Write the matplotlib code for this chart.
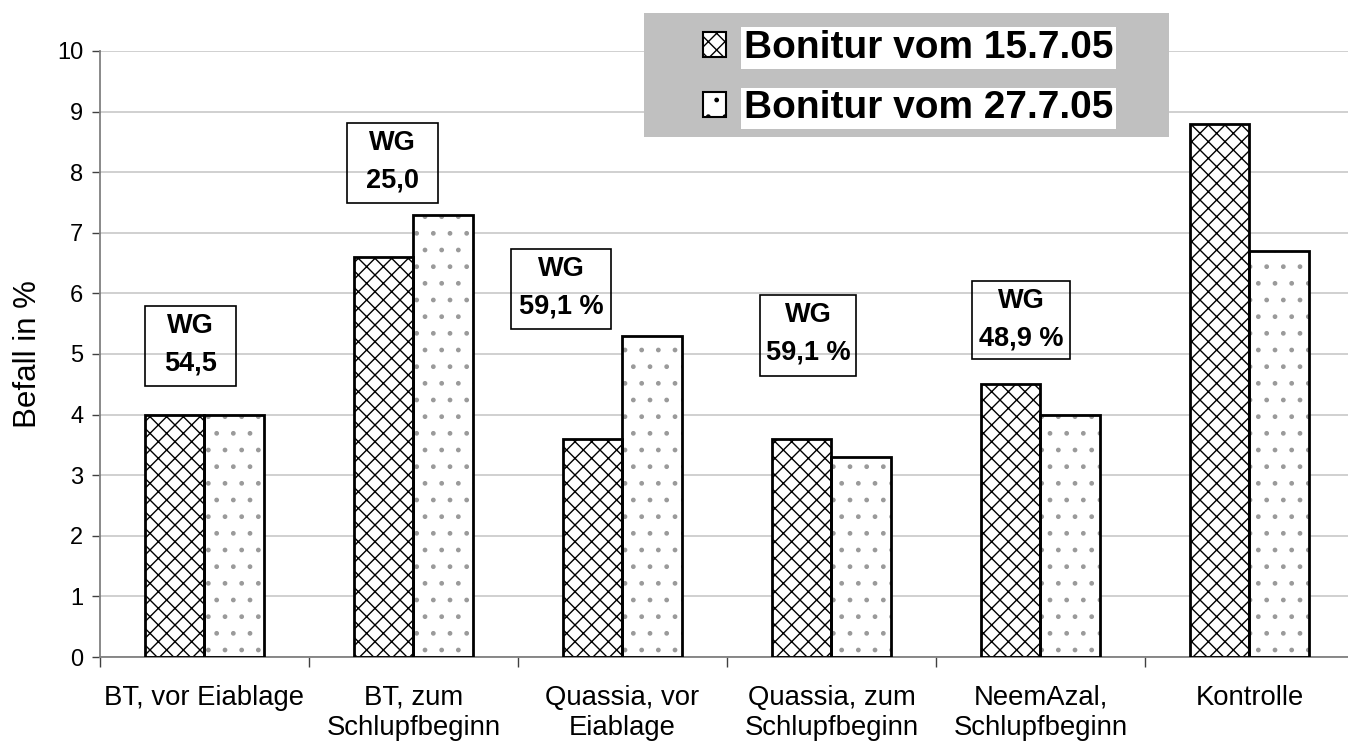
import matplotlib
matplotlib.use("Agg")
import matplotlib.pyplot as plt
import numpy as np
from matplotlib.patches import Patch, Rectangle

plt.rcParams["font.family"] = ["Liberation Sans", "DejaVu Sans"]
plt.rcParams["hatch.linewidth"] = 1.0

# data
categories = [
    "BT, vor Eiablage",
    "BT, zum\nSchlupfbeginn",
    "Quassia, vor\nEiablage",
    "Quassia, zum\nSchlupfbeginn",
    "NeemAzal,\nSchlupfbeginn",
    "Kontrolle",
]
bonitur_1507 = [4.0, 6.6, 3.6, 3.6, 4.5, 8.8]
bonitur_2707 = [4.0, 7.3, 5.3, 3.3, 4.0, 6.7]
series_labels = ["Bonitur vom 15.7.05", "Bonitur vom 27.7.05"]
wg_texts = ["WG\n54,5\n%", "WG\n25,0\n%", "WG\n59,1 %", "WG\n59,1 %", "WG\n48,9 %"]

# annotation boxes (x0, x1, y0, y1) in data units
wg_boxes = [
    (-0.285, 0.151, 4.47, 5.79),
    (0.682, 1.117, 7.49, 8.81),
    (1.467, 1.945, 5.41, 6.73),
    (2.658, 3.117, 4.64, 5.97),
    (3.672, 4.141, 4.92, 6.20),
]

W, H = 1348, 742
fig = plt.figure(figsize=(W / 100, H / 100), dpi=100)
ax = fig.add_axes([100 / W, 1 - 657 / H, 1254 / W, 606 / H])

x = np.arange(len(categories))
bw = 0.287

# hatch layers
ax.bar(x - bw / 2, bonitur_1507, bw, facecolor="white", edgecolor="black",
       linewidth=0, hatch="xx", zorder=2)
ax.bar(x + bw / 2, bonitur_2707, bw, facecolor="white", edgecolor="#9a9a9a",
       linewidth=0, hatch=".", zorder=2)
# outlines
ax.bar(x - bw / 2, bonitur_1507, bw, fill=False, edgecolor="black", linewidth=2.0, zorder=3)
ax.bar(x + bw / 2, bonitur_2707, bw, fill=False, edgecolor="black", linewidth=2.0, zorder=3)

ax.set_xlim(-0.5, len(categories) - 0.5)
ax.set_ylim(0, 10)
ax.set_yticks(range(0, 11))
ax.tick_params(axis="y", labelsize=17, length=6, width=1, color="#404040", pad=6)
ax.set_xticks(x)
ax.set_xticklabels(categories, fontsize=19.8, linespacing=1.2)
ax.tick_params(axis="x", which="major", length=0, pad=20)
ax.set_xticks(np.arange(len(categories) + 1) - 0.5, minor=True)
ax.tick_params(axis="x", which="minor", length=7, width=1, color="#404040")

ax.grid(axis="y", color="#c8c8c8", linewidth=1.2, zorder=0)
ax.set_axisbelow(True)
for s in ["top", "right"]:
    ax.spines[s].set_visible(False)
for s in ["left", "bottom"]:
    ax.spines[s].set_color("#808080")
    ax.spines[s].set_linewidth(1.3)

ax.set_ylabel("Befall in %", fontsize=22.5, labelpad=10)

# WG boxes with clipped text
for (x0, x1, y0, y1), txt in zip(wg_boxes, wg_texts):
    rect = Rectangle((x0, y0), x1 - x0, y1 - y0, fill=False, edgecolor="black",
                     linewidth=1.2, zorder=4)
    ax.add_patch(rect)
    t = ax.annotate(txt, xy=((x0 + x1) / 2, y1), xytext=(0, -5), textcoords="offset points",
                    ha="center", va="top", fontsize=19.5, fontweight="bold",
                    linespacing=1.55, zorder=5)
    t.set_clip_path(rect)

# legend
fig.add_artist(Rectangle((644 / W, 1 - 137 / H), 525 / W, 124 / H,
                         transform=fig.transFigure, facecolor="#c0c0c0",
                         edgecolor="none", zorder=1))
handles = [
    Patch(facecolor="white", edgecolor="black", hatch="xx", linewidth=1.5),
    Patch(facecolor="white", edgecolor="black", hatch=".", linewidth=1.5),
]
leg = fig.legend(handles, series_labels, loc="upper left",
                 bbox_to_anchor=(703 / W, 1 - 30 / H), frameon=False,
                 prop={"size": 28, "weight": "bold"}, handlelength=0.6,
                 handleheight=0.6, handletextpad=0.45, labelspacing=0.63,
                 borderpad=0, borderaxespad=0)
leg.set_zorder(6)
for t in leg.get_texts():
    t.set_bbox(dict(facecolor="white", edgecolor="none", pad=2))

fig.savefig("out.png", dpi=100)
